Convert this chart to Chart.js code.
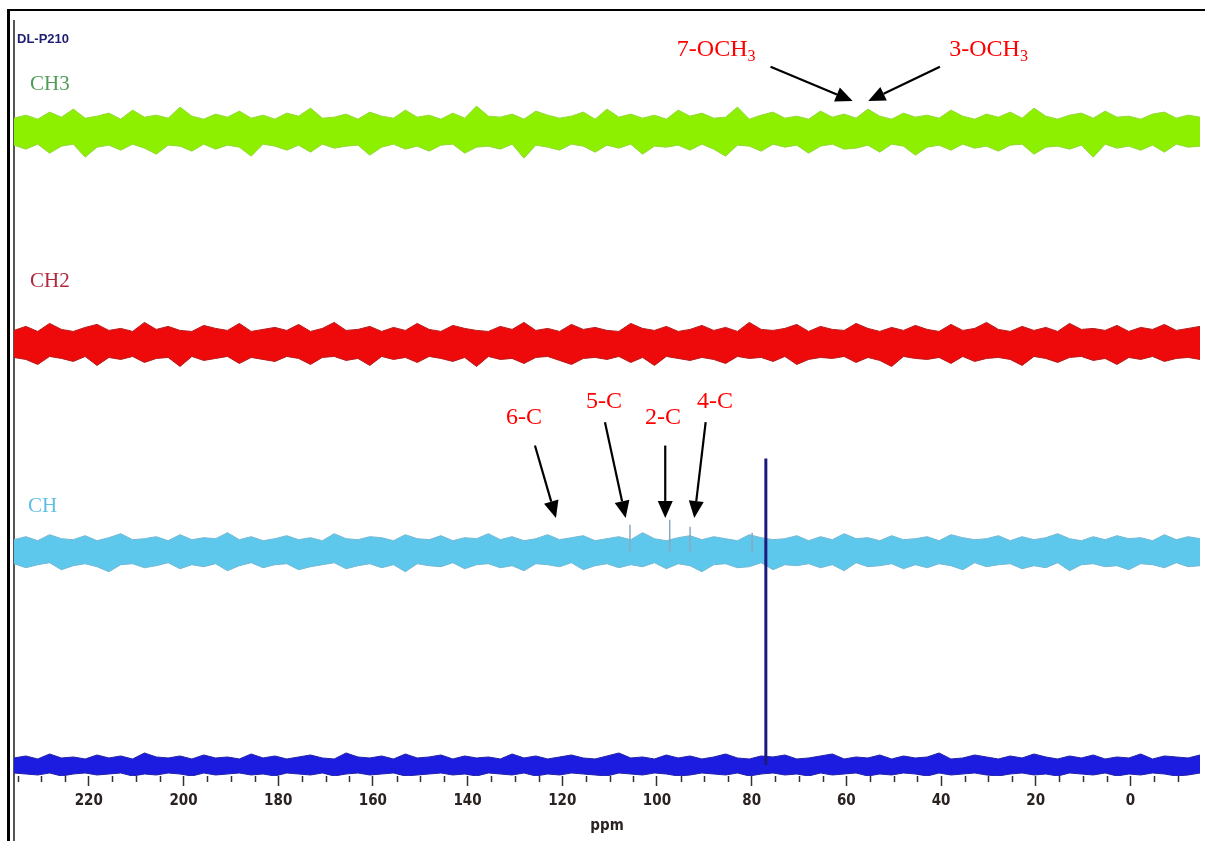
<!DOCTYPE html>
<html><head><meta charset="utf-8">
<script src="https://cdn.jsdelivr.net/npm/chart.js@4.4.1/dist/chart.umd.min.js"></script>
<style>
html,body{margin:0;padding:0;background:#fff;width:1205px;height:841px;overflow:hidden}
#frame{position:absolute;left:7px;top:9px;width:1210px;height:900px;border-top:2px solid #000;border-left:3px solid #000;box-sizing:border-box}
#inner{position:absolute;left:13px;top:20px;width:1.5px;height:830px;background:#555}
#wrap{position:absolute;left:0;top:0;width:1205px;height:841px}
</style></head><body>
<div id="frame"></div><div id="inner"></div>
<div id="wrap"><canvas id="c"></canvas></div>
<script>
// ---- data (ppm axis, intensities in arbitrary units ~ pixels) ----
const ppmMax = 235.8, ppmMin = -14.7;
const tickLabels = [220,200,180,160,140,120,100,80,60,40,20,0];
const minorTickStep = 5;

const ch3Upper = [13,16,12,19,14,22,13,15,18,12,21,14,16,13,24,15,12,17,14,20,13,16,12,18,15,23,13,14,17,12,19,15,13,21,14,16,12,18,13,25,15,14,17,12,20,16,13,15,19,12,22,14,17,13,16,12,21,15,18,13,14,24,12,16,19,13,15,12,20,14,17,13,22,15,12,18,14,16,13,21,15,12,17,14,19,13,23,15,12,16,18,13,20,14,15,12,17,19,13,16,14];
const ch3Lower = [-14,-18,-13,-22,-15,-13,-26,-16,-14,-19,-13,-17,-23,-14,-15,-20,-13,-18,-14,-16,-25,-13,-15,-19,-14,-21,-13,-17,-15,-14,-24,-16,-13,-18,-15,-20,-14,-13,-22,-16,-15,-18,-13,-27,-14,-16,-19,-13,-15,-21,-14,-17,-13,-23,-15,-16,-14,-19,-13,-18,-25,-14,-15,-20,-13,-16,-14,-22,-15,-13,-18,-17,-14,-21,-13,-15,-24,-16,-14,-19,-13,-17,-15,-20,-14,-13,-23,-16,-15,-18,-14,-26,-13,-17,-15,-19,-14,-21,-13,-16,-15];

const ch2Upper = [13,17,12,20,14,12,16,19,13,15,12,21,14,17,13,12,18,15,13,20,12,14,16,13,19,12,15,21,13,14,17,12,16,13,20,14,12,18,15,13,12,17,14,21,13,15,12,19,14,16,13,12,20,15,13,17,12,14,18,13,16,12,21,14,13,15,19,12,17,14,13,20,15,12,16,13,18,14,12,19,13,15,21,14,12,17,13,16,12,20,14,15,13,18,12,16,14,19,13,15,17];
const ch2Lower = [-14,-16,-21,-13,-15,-18,-13,-22,-14,-16,-13,-19,-15,-14,-23,-13,-17,-15,-13,-20,-14,-16,-18,-13,-15,-21,-14,-13,-17,-15,-22,-13,-16,-14,-19,-13,-15,-18,-14,-23,-13,-16,-15,-20,-14,-13,-17,-21,-15,-14,-16,-13,-19,-14,-22,-13,-15,-17,-14,-16,-20,-13,-15,-14,-18,-13,-21,-16,-14,-15,-13,-19,-14,-17,-23,-13,-15,-16,-14,-20,-13,-18,-15,-14,-16,-22,-13,-15,-19,-14,-13,-17,-15,-21,-14,-16,-13,-18,-15,-14,-16];

const chUpper = [12,15,11,17,13,12,16,11,14,18,12,13,15,11,17,12,14,13,19,12,15,11,13,16,12,14,11,18,13,12,15,14,11,17,13,12,16,11,14,13,18,12,15,11,13,17,12,14,16,11,13,15,12,19,13,11,14,16,12,15,13,11,17,14,12,13,16,11,15,12,18,13,14,11,16,12,13,15,11,17,14,12,13,16,11,15,12,14,18,13,11,15,12,16,13,14,11,17,12,15,13];
const chLower = [-12,-16,-13,-11,-18,-14,-12,-15,-20,-13,-12,-16,-14,-11,-17,-13,-15,-12,-19,-14,-11,-16,-13,-12,-18,-15,-13,-11,-17,-14,-12,-16,-13,-20,-12,-14,-15,-11,-17,-13,-12,-16,-14,-19,-12,-13,-15,-11,-18,-14,-12,-16,-13,-15,-11,-17,-12,-14,-20,-13,-12,-16,-15,-11,-18,-13,-14,-12,-16,-13,-19,-11,-15,-14,-12,-17,-13,-16,-12,-14,-18,-11,-15,-13,-12,-17,-14,-16,-11,-19,-13,-12,-15,-14,-18,-12,-13,-16,-11,-15,-14];

const c13Upper = [7,9,6,11,7,8,6,10,7,9,6,12,8,7,9,6,10,7,8,6,11,7,9,6,8,10,7,6,12,8,7,9,6,11,7,8,10,6,9,7,8,6,11,7,9,6,8,10,7,6,9,12,7,8,6,10,7,9,6,8,11,7,6,9,8,10,6,7,9,11,6,8,7,10,6,9,7,8,12,6,7,10,8,6,9,7,11,8,6,9,7,10,6,8,7,11,6,9,8,7,10];
const c13Lower = [-8,-9,-10,-8,-11,-9,-8,-10,-9,-8,-11,-9,-10,-8,-9,-11,-8,-10,-9,-8,-10,-9,-11,-8,-9,-10,-8,-11,-9,-8,-10,-9,-8,-11,-10,-9,-8,-10,-9,-11,-8,-9,-10,-8,-11,-9,-10,-8,-9,-10,-11,-8,-9,-10,-8,-9,-11,-10,-8,-9,-10,-8,-11,-9,-8,-10,-9,-11,-8,-10,-9,-8,-11,-9,-10,-8,-9,-11,-8,-10,-9,-8,-10,-11,-9,-8,-10,-9,-11,-8,-9,-10,-8,-11,-9,-10,-8,-9,-11,-10,-8];

const chPeakPpm = [105.7, 97.3, 93.0, 79.9];
const chPeakHeight = [27, 32, 25, 19];
const solventPeakPpm = [77.0];
const solventPeakHeight = [306];

const annotationText = ['7-OCH','3-OCH','6-C','5-C','2-C','4-C'];
const annotationSub  = ['3','3','','','',''];
const labelPpm   = [95.8, 38.27, 131.9, 115.0, 102.5, 91.55];
const labelLevel = [719, 719, 352, 368, 352, 368];
const arrowFromPpm   = [76.0, 40.23, 125.77, 110.98, 98.25, 89.71];
const arrowFromLevel = [708.3, 708.3, 330, 353.3, 330, 353.3];
const arrowToPpm     = [58.67, 55.37, 121.33, 106.61, 98.25, 92.12];
const arrowToLevel   = [674, 674, 257.7, 257.7, 257.7, 257.7];

// ---- layout / style ----
const baselines = {ch3: 644, ch2: 432, ch: 224, c13: 11};
const sideLabels = [
  {text:'DL-P210', x:17, y:43, font:"bold 13px 'Liberation Sans'", color:'#1e1e72'},
  {text:'CH3', x:30, y:90, font:"21px 'Liberation Serif'", color:'#4f9c58'},
  {text:'CH2', x:30, y:287, font:"21px 'Liberation Serif'", color:'#ad2a3a'},
  {text:'CH', x:28, y:512, font:"21px 'Liberation Serif'", color:'#5fbfe2'}
];

function gridPoints(values, base) {
  const n = values.length;
  return values.map((v, i) => ({x: ppmMax - i * (ppmMax - ppmMin) / (n - 1), y: base + v}));
}
function spikePoints(ppm, heights, base) {
  const pts = [];
  ppm.forEach((p, i) => { pts.push({x:p, y:base}, {x:p, y:base + heights[i]}, {x:p, y:null}); });
  return pts;
}
function band(upper, lower, base, fillColor, edge) {
  return [
    {data: gridPoints(upper, base), borderColor: edge, borderWidth: 1, pointRadius: 0, fill: false, order: 2},
    {data: gridPoints(lower, base), borderColor: edge, borderWidth: 1, pointRadius: 0, fill: '-1', backgroundColor: fillColor, order: 2}
  ];
}

const datasets = [
  ...band(ch3Upper, ch3Lower, baselines.ch3, '#8cf000', '#95d83a'),
  ...band(ch2Upper, ch2Lower, baselines.ch2, '#ee0a0a', '#b81818'),
  ...band(chUpper, chLower, baselines.ch, '#5ec8ec', '#72b8d4'),
  ...band(c13Upper, c13Lower, baselines.c13, '#1c1ce0', '#2222a8'),
  {data: spikePoints(chPeakPpm, chPeakHeight, baselines.ch), borderColor:'#8aa8bc', borderWidth:1.5, pointRadius:0, fill:false, order:1},
  {data: spikePoints(solventPeakPpm, solventPeakHeight, baselines.c13), borderColor:'#1b1b7e', borderWidth:3, pointRadius:0, fill:false, order:0}
];

const annotPlugin = {
  id: 'annot',
  afterDatasetsDraw(chart) {
    const {ctx, chartArea} = chart;
    const xs = chart.scales.x, ys = chart.scales.y;
    ctx.save();
    // minor ticks
    ctx.strokeStyle = '#333'; ctx.lineWidth = 1.5;
    for (let p = Math.ceil(ppmMin / minorTickStep) * minorTickStep; p <= ppmMax; p += minorTickStep) {
      if (tickLabels.includes(p)) continue;
      const px = Math.round(xs.getPixelForValue(p)) + 0.5;
      ctx.beginPath(); ctx.moveTo(px, chartArea.bottom); ctx.lineTo(px, chartArea.bottom + 6); ctx.stroke();
    }
    // arrows
    for (let i = 0; i < arrowFromPpm.length; i++) {
      const x1 = xs.getPixelForValue(arrowFromPpm[i]), y1 = ys.getPixelForValue(arrowFromLevel[i]);
      const x2 = xs.getPixelForValue(arrowToPpm[i]), y2 = ys.getPixelForValue(arrowToLevel[i]);
      const a = Math.atan2(y2 - y1, x2 - x1), L = 17, W = 7.5;
      const bx = x2 - L * Math.cos(a), by = y2 - L * Math.sin(a);
      ctx.beginPath(); ctx.moveTo(x1, y1); ctx.lineTo(bx, by);
      ctx.lineWidth = 2.2; ctx.strokeStyle = '#000'; ctx.stroke();
      ctx.beginPath(); ctx.moveTo(x2, y2);
      ctx.lineTo(bx - W * Math.sin(a), by + W * Math.cos(a));
      ctx.lineTo(bx + W * Math.sin(a), by - W * Math.cos(a));
      ctx.closePath(); ctx.fillStyle = '#000'; ctx.fill();
    }
    // annotation labels
    ctx.fillStyle = '#ff0000'; ctx.textBaseline = 'alphabetic'; ctx.textAlign = 'left';
    for (let i = 0; i < annotationText.length; i++) {
      const lx = xs.getPixelForValue(labelPpm[i]), ly = ys.getPixelForValue(labelLevel[i]);
      ctx.font = "24px 'Liberation Serif'";
      ctx.fillText(annotationText[i], lx, ly);
      if (annotationSub[i]) {
        const w = ctx.measureText(annotationText[i]).width;
        ctx.font = "16px 'Liberation Serif'";
        ctx.fillText(annotationSub[i], lx + w, ly + 5);
      }
    }
    // side labels
    sideLabels.forEach(s => { ctx.font = s.font; ctx.fillStyle = s.color; ctx.fillText(s.text, s.x, s.y); });
    ctx.restore();
  }
};

const axisFont = {family: "'DejaVu Sans Condensed', 'DejaVu Sans'", size: 15, weight: 'bold'};
new Chart(document.getElementById('c'), {
  type: 'line',
  data: {datasets},
  options: {
    responsive: true, maintainAspectRatio: false, animation: false, events: [],
    layout: {padding: {left: 14, right: 5, top: 20, bottom: 6}},
    plugins: {legend: {display: false}, tooltip: {enabled: false}},
    elements: {line: {tension: 0}},
    scales: {
      x: {
        type: 'linear', reverse: true, min: ppmMin, max: ppmMax,
        ticks: {stepSize: 20, includeBounds: false, autoSkip: false, maxRotation: 0, padding: 6,
          color: '#2b2222', font: axisFont,
          callback: v => tickLabels.includes(v) ? String(v) : ''},
        grid: {drawOnChartArea: false, tickLength: 10, tickColor: '#333', tickWidth: 1.5},
        border: {display: false},
        title: {display: true, text: 'ppm', color: '#2b2222', font: axisFont, padding: {top: 1, bottom: 0}}
      },
      y: {type: 'linear', min: 0, max: 755, display: false}
    }
  },
  plugins: [annotPlugin]
});
</script></body></html>
